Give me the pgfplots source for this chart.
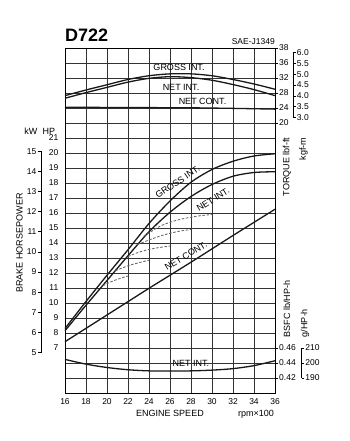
\documentclass[border=0pt]{standalone}
\usepackage{pgfplots}
\usepackage{pgfplotstable}
\pgfplotsset{compat=1.18}
\usepackage{fontspec}
\setmainfont{Liberation Sans}

% torque, lbf-ft (as labelled on the right scale)
\pgfplotstableread{
x T
16 27.3
18 28.8
20 30.2
22 31.6
24 32.6
26 33.1
28 33.1
30 32.6
32 31.6
34 30.4
36 29.0
}\tqgross
\pgfplotstableread{
x T
16 26.6
18 28.1
20 29.5
22 30.9
24 31.9
26 32.35
28 32.1
30 31.4
32 30.25
34 28.9
36 27.3
}\tqnetint
\pgfplotstableread{
x T
16 24.2
20 24.15
24 24.1
28 24.05
32 23.9
36 23.7
}\tqnetcont

% brake horsepower, HP
\pgfplotstableread{
x P
16 8.3
18 10.1
20 11.85
22 13.55
24 15.3
26 16.8
28 18.05
30 18.9
32 19.45
34 19.8
36 19.95
}\pwgross
\pgfplotstableread{
x P
16 8.15
18 9.85
20 11.5
22 13.15
24 14.75
26 16.05
28 17.1
30 17.9
32 18.45
34 18.7
36 18.75
}\pwnetint
\pgfplotstableread{
x P
16 7.42
20 9.2
24 10.98
28 12.72
32 14.5
36 16.25
}\pwnetcont

% BSFC, lb/HP-h
\pgfplotstableread{
x B
16 0.4448
18 0.4385
20 0.4340
22 0.4310
24 0.4295
26 0.4292
28 0.4295
30 0.4305
32 0.4325
34 0.4365
36 0.4430
}\bsfc

\begin{document}
\begin{tikzpicture}[font=\fontsize{9}{10}\selectfont]
\path[use as bounding box] (-65pt,-48pt) rectangle (285pt,393pt);
\begin{axis}[
  at={(0pt,0pt)}, anchor=south west,
  width=210pt, height=345pt, scale only axis,
  xmin=16, xmax=36, ymin=4, ymax=27,
  xtick={16,18,...,36}, ytick={4,...,27},
  yticklabels={,,,7,8,9,10,11,12,13,14,15,16,17,18,19,20,21,,,,,,},
  grid=major, major grid style={black!80, line width=0.5pt},
  major tick length=0pt,
  axis line style={black, line width=0.7pt},
  tick label style={font=\fontsize{8.5}{9}\selectfont},
  /pgf/number format/assume math mode=true,
  yticklabel style={inner sep=0pt, xshift=-6.5pt},
  xticklabel style={inner sep=0pt, yshift=-5pt},
  clip=false,
]
\addplot[black!90, line width=1.3pt, smooth] table[x=x, y expr={23+(\thisrow{T}-24)/4}] {\tqgross};
\addplot[black!90, line width=1.3pt, smooth] table[x=x, y expr={23+(\thisrow{T}-24)/4}] {\tqnetint};
\addplot[black!90, line width=1.3pt, smooth] table[x=x, y expr={23+(\thisrow{T}-24)/4}] {\tqnetcont};
\addplot[black!90, line width=1.3pt, smooth] table[x=x, y=P] {\pwgross};
\addplot[black!90, line width=1.3pt, smooth] table[x=x, y=P] {\pwnetint};
\addplot[black!90, line width=1.3pt, smooth] table[x=x, y=P] {\pwnetcont};
\addplot[black!90, line width=1.3pt, smooth] table[x=x, y expr={7+(\thisrow{B}-0.46)*50}] {\bsfc};
% part-load (dashed)
\addplot[black!60, line width=0.85pt, dash pattern=on 2.6pt off 1.6pt, smooth] coordinates {(23.5,14.45) (25,15.1) (26,15.38) (27,15.58) (28,15.72) (29,15.83) (30,15.9)};
\addplot[black!60, line width=0.85pt, dash pattern=on 2.6pt off 1.6pt, smooth] coordinates {(22.9,13.9) (24,14.2) (25,14.45) (26,14.65) (27,14.8) (28,14.9)};
\addplot[black!60, line width=0.85pt, dash pattern=on 2.6pt off 1.6pt, smooth] coordinates {(22.0,13.1) (23,13.38) (24,13.57) (25,13.7) (26,13.8)};
\addplot[black!60, line width=0.85pt, dash pattern=on 2.6pt off 1.6pt, smooth] coordinates {(20.8,12.15) (22,12.48) (23,12.68) (24,12.85)};
\addplot[black!60, line width=0.85pt, dash pattern=on 2.6pt off 1.6pt, smooth] coordinates {(19.6,11.15) (20.5,11.45) (21.3,11.65) (22,11.8)};
\end{axis}
\begin{axis}[
  at={(0pt,0pt)}, anchor=south west,
  width=210pt, height=345pt, scale only axis,
  xmin=16, xmax=36, ymin=4, ymax=27,
  axis x line=none, axis y line*=right,
  ytick={5,6,7,22,23,24,25,26,27},
  yticklabels={0.42,0.44,0.46,20,24,28,32,36,38},
  tick align=outside, major tick length=3pt,
  tick style={black, line width=0.5pt},
  axis line style={black, line width=0.7pt},
  yticklabel style={inner sep=1pt, font=\fontsize{8.5}{9}\selectfont},
]
\end{axis}

% kW scale
\draw[line width=0.5pt] (-23.3pt,40.6pt) -- (-23.3pt,241.7pt);
\foreach \k in {5,...,15} {
  \pgfmathsetmacro\yy{(1.341*\k-4)*15}
  \draw[line width=0.5pt] (-23.3pt,\yy pt) -- (-26.7pt,\yy pt) node[left, inner sep=1.6pt, font=\fontsize{8.5}{9}\selectfont] {\k};
}
% kgf-m scale
\draw[line width=0.5pt] (228.3pt,275.7pt) -- (228.3pt,340.3pt);
\foreach \lab [count=\i from 0] in {6.0,5.5,5.0,4.5,4.0,3.5,3.0} {
  \pgfmathsetmacro\yy{340.3-\i*10.767}
  \draw[line width=0.5pt] (228.3pt,\yy pt) -- (230.5pt,\yy pt) node[right, inner sep=1.2pt, font=\fontsize{8.5}{9}\selectfont] {\lab};
}
% g/HP-h scale
\draw[line width=0.5pt] (236.7pt,15pt) -- (236.7pt,45pt);
\foreach \yy/\lab in {45/210,30/200,15/190} {
  \draw[line width=0.5pt] (236.7pt,\yy pt) -- (238.9pt,\yy pt) node[right, inner sep=1.2pt, font=\fontsize{8.5}{9}\selectfont] {\lab};
}

% titles
\node[anchor=base west, inner sep=0pt, font=\bfseries\fontsize{18}{18}\selectfont] at (0pt,351pt) {D722};
\node[anchor=base east, inner sep=0pt, font=\fontsize{8.5}{9}\selectfont] at (210pt,348.5pt) {SAE-J1349};
% torque curve labels
\node[anchor=base, inner sep=0pt] at (114pt,322.5pt) {GROSS INT.};
\node[anchor=base, inner sep=0pt] at (116pt,302.3pt) {NET INT.};
\node[anchor=base, inner sep=0pt] at (137.5pt,288.7pt) {NET CONT.};
% power curve labels
\node[rotate=34, inner sep=0pt] at (112.5pt,211pt) {GROSS INT.};
\node[rotate=32, inner sep=0pt] at (148pt,193.5pt) {NET INT.};
\node[rotate=31, inner sep=0pt] at (120.8pt,137pt) {NET CONT.};
% bsfc label
\node[anchor=base, inner sep=0pt] at (125.8pt,26.3pt) {NET INT.};
% axis titles
\node[anchor=base, inner sep=0pt] at (-34.2pt,258pt) {kW};
\node[anchor=base, inner sep=0pt] at (-16pt,258pt) {HP};
\node[rotate=90, inner sep=0pt] at (-45.5pt,150pt) {BRAKE HORSEPOWER};
\node[rotate=90, inner sep=0pt] at (222pt,226pt) {TORQUE lbf-ft};
\node[rotate=90, inner sep=0pt] at (238.5pt,244pt) {kgf-m};
\node[rotate=90, inner sep=0pt] at (222pt,84pt) {BSFC lb/HP-h};
\node[rotate=90, inner sep=0pt] at (240pt,70pt) {g/HP-h};
\node[anchor=base, inner sep=0pt] at (105pt,-23.7pt) {ENGINE SPEED};
\node[anchor=base, inner sep=0pt] at (191pt,-23.7pt) {rpm×100};
\end{tikzpicture}
\end{document}
